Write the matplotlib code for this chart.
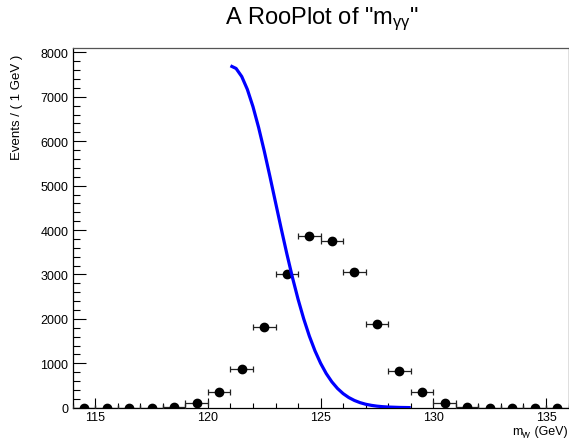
import numpy as np
import matplotlib
matplotlib.use("Agg")
import matplotlib.pyplot as plt
from matplotlib.ticker import MultipleLocator

plt.rcParams['font.family'] = ['Liberation Sans', 'DejaVu Sans']
plt.rcParams['mathtext.fontset'] = 'custom'
plt.rcParams['mathtext.rm'] = 'Liberation Sans'
plt.rcParams['mathtext.it'] = 'Liberation Sans'

# Binned data (bin centres, counts)
bin_centers = [114.5, 115.5, 116.5, 117.5, 118.5, 119.5, 120.5, 121.5, 122.5, 123.5, 124.5,
               125.5, 126.5, 127.5, 128.5, 129.5, 130.5, 131.5, 132.5, 133.5, 134.5, 135.5]
counts = [0, 0, 0, 0, 20, 99, 347, 872, 1824, 3004, 3874,
          3761, 3063, 1892, 820, 347, 99, 25, 0, 0, 0, 0]

# Model curve
curve_x = [121.00, 121.25, 121.50, 121.75, 122.00, 122.25, 122.50, 122.75, 123.00, 123.25,
           123.50, 123.75, 124.00, 124.25, 124.50, 124.75, 125.00, 125.25, 125.50, 125.75,
           126.00, 126.25, 126.50, 126.75, 127.00, 127.25, 127.50, 127.75, 128.00, 128.50, 129.00]
curve_y = [7700, 7639, 7458, 7167, 6778, 6309, 5779, 5211, 4623, 4037,
           3470, 2935, 2443, 2002, 1614, 1281, 1001, 769, 582, 433,
           317, 229, 163, 114, 78, 53, 35, 23, 15, 6, 2]

title = 'A RooPlot of "m$_{\\gamma\\gamma}$"'
xlabel_parts = ['m', 'γγ', ' (GeV)']
ylabel = 'Events / ( 1 GeV )'

W, H = 569, 439
fig = plt.figure(figsize=(W/100, H/100), dpi=100)
ax = fig.add_axes([72.7/W, 30.3/H, (568.5-72.7)/W, (408.7-49)/H])

x = np.array(bin_centers)
y = np.array(counts, dtype=float)
ax.errorbar(x, y, xerr=0.5, yerr=np.sqrt(y), fmt='o', color='black', ms=6,
            ecolor='#222222', elinewidth=0.9, capsize=2.2, capthick=0.9, zorder=3)
ax.plot(curve_x, curve_y, color='#0000ff', lw=2.3, zorder=4, solid_capstyle='butt')

ax.set_xlim(114, 136)
ax.set_ylim(0, 8100)
ax.xaxis.set_major_locator(MultipleLocator(5))
ax.xaxis.set_minor_locator(MultipleLocator(1))
ax.yaxis.set_major_locator(MultipleLocator(1000))
ax.yaxis.set_minor_locator(MultipleLocator(200))
ax.tick_params(axis='both', which='both', direction='in', labelsize=9, colors='black')
ax.tick_params(axis='x', which='major', length=7.2, width=0.8, pad=2.5)
ax.tick_params(axis='x', which='minor', length=3.6, width=0.8)
ax.tick_params(axis='y', which='major', length=9.4, width=0.8, pad=3)
ax.tick_params(axis='y', which='minor', length=5, width=0.8)
for s in ax.spines.values():
    s.set_linewidth(0.9)
    s.set_color('black')
ax.spines['top'].set_color('#555555')

fig.text(322/W, 1 - 19/H, title, ha='center', va='center', fontsize=17)
fig.text(17/W, 1 - 55/H, ylabel, rotation=90, ha='center', va='top', fontsize=9.5)

# x-axis title built from plain text pieces (m, subscript γγ, (GeV)), right-aligned
fig.canvas.draw()
r = fig.canvas.get_renderer()
base_y = 4/H
t3 = fig.text(568/W, base_y, xlabel_parts[2], ha='right', va='baseline', fontsize=9)
x3 = t3.get_window_extent(r).x0
t2 = fig.text(x3/W, base_y - 2.5/H, xlabel_parts[1], ha='right', va='baseline', fontsize=6.5)
x2 = t2.get_window_extent(r).x0
fig.text(x2/W, base_y, xlabel_parts[0], ha='right', va='baseline', fontsize=9)

fig.savefig('out.png', dpi=100)
